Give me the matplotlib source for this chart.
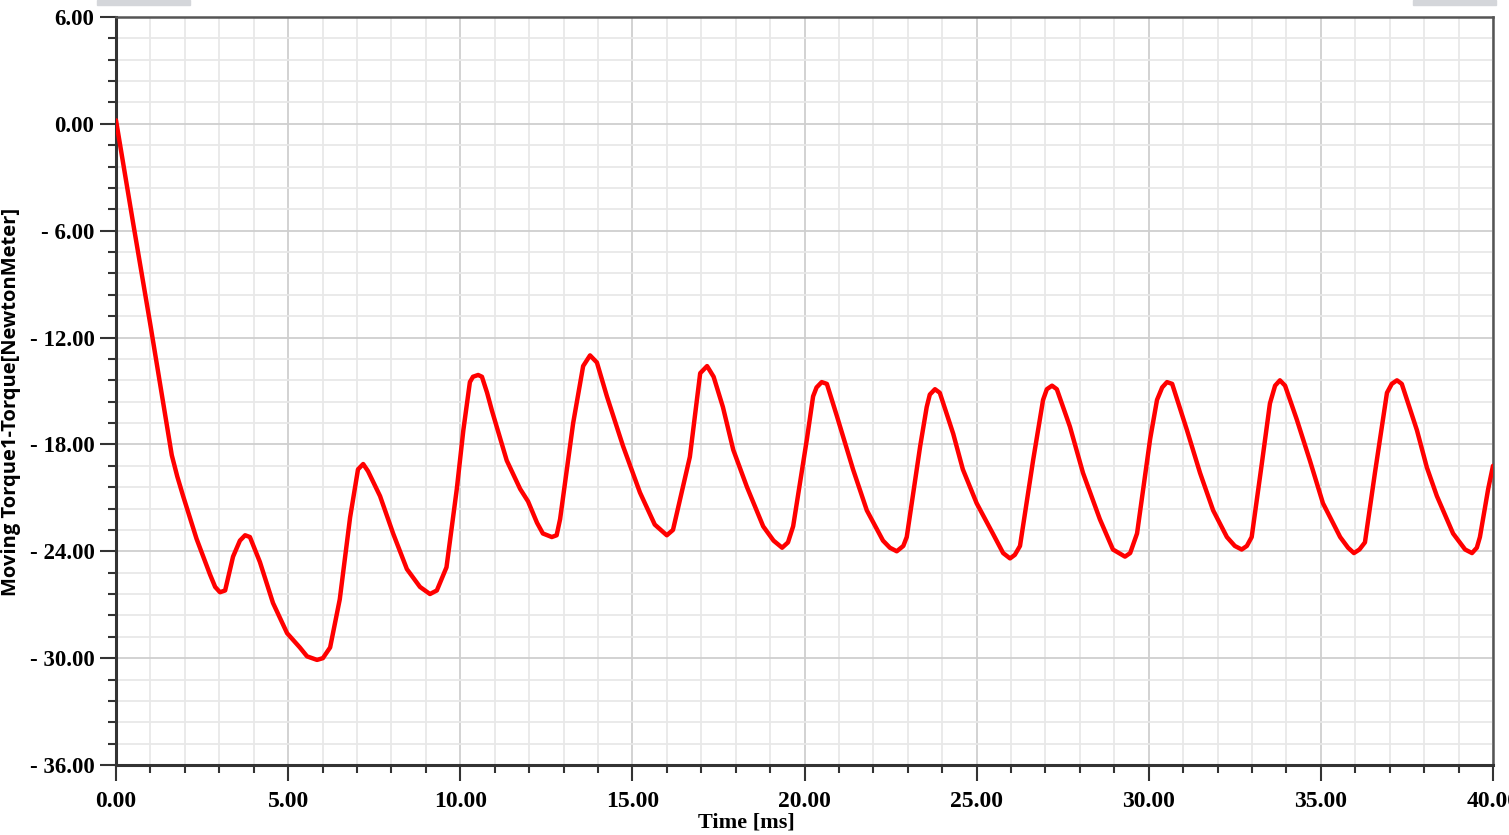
import matplotlib
matplotlib.use("Agg")
import matplotlib.pyplot as plt
from matplotlib.ticker import MultipleLocator, FuncFormatter
from matplotlib.patches import Rectangle

# Data (time in ms, torque in N·m)
time_ms = [0.0, 0.5, 1.0, 1.34, 1.62, 1.78, 1.95, 2.34, 2.73, 2.88, 3.02, 3.17, 3.4, 3.6, 3.75,
           3.89, 4.18, 4.56, 4.97, 5.34, 5.55, 5.84, 6.01, 6.22, 6.5, 6.8, 7.03, 7.18, 7.32,
           7.67, 8.05, 8.45, 8.83, 9.12, 9.32, 9.6, 9.9, 10.09, 10.28, 10.37, 10.52, 10.63,
           10.78, 10.92, 11.35, 11.74, 11.97, 12.23, 12.4, 12.66, 12.8, 12.9, 13.28, 13.57,
           13.77, 13.97, 14.26, 14.73, 15.22, 15.65, 16.0, 16.18, 16.67, 16.97, 17.17, 17.36,
           17.63, 17.93, 18.33, 18.8, 19.1, 19.35, 19.52, 19.67, 20.07, 20.25, 20.35, 20.5,
           20.65, 20.94, 21.41, 21.81, 22.28, 22.48, 22.68, 22.87, 22.97, 23.36, 23.55, 23.64,
           23.79, 23.93, 24.32, 24.6, 25.0, 25.47, 25.77, 25.97, 26.11, 26.26, 26.64, 26.93,
           27.04, 27.19, 27.33, 27.71, 28.09, 28.58, 28.96, 29.31, 29.46, 29.66, 30.04, 30.24,
           30.39, 30.53, 30.68, 31.11, 31.49, 31.87, 32.27, 32.5, 32.7, 32.85, 32.99, 33.29,
           33.52, 33.67, 33.81, 33.96, 34.3, 34.68, 35.06, 35.56, 35.79, 35.96, 36.12, 36.28,
           36.57, 36.92, 37.06, 37.21, 37.35, 37.79, 38.08, 38.37, 38.84, 39.19, 39.39, 39.53,
           39.62, 39.86, 40.0]
torque_nm = [0.2, -5.6, -11.3, -15.3, -18.6, -19.8, -20.9, -23.3, -25.3, -26.0, -26.3, -26.2, -24.3, -23.4, -23.1,
             -23.2, -24.6, -26.9, -28.6, -29.4, -29.9, -30.1, -30.0, -29.4, -26.7, -22.1, -19.4, -19.1, -19.5,
             -20.9, -23.0, -25.0, -26.0, -26.4, -26.2, -24.9, -20.5, -17.2, -14.5, -14.2, -14.1, -14.2,
             -15.1, -16.1, -18.9, -20.5, -21.2, -22.4, -23.0, -23.2, -23.1, -22.2, -16.8, -13.6,
             -13.0, -13.4, -15.3, -18.1, -20.7, -22.5, -23.1, -22.8, -18.7, -14.0, -13.6, -14.2,
             -15.9, -18.3, -20.4, -22.6, -23.4, -23.8, -23.5, -22.6, -17.7, -15.3, -14.8, -14.5,
             -14.6, -16.4, -19.4, -21.7, -23.4, -23.8, -24.0, -23.7, -23.2, -18.1, -15.9, -15.2,
             -14.9, -15.1, -17.4, -19.4, -21.3, -23.0, -24.1, -24.4, -24.2, -23.7, -18.9, -15.5,
             -14.9, -14.7, -14.9, -17.0, -19.6, -22.2, -23.9, -24.3, -24.1, -23.0, -17.7, -15.5,
             -14.8, -14.5, -14.6, -17.2, -19.6, -21.7, -23.2, -23.7, -23.9, -23.7, -23.2, -19.0,
             -15.7, -14.7, -14.4, -14.7, -16.6, -18.9, -21.3, -23.2, -23.8, -24.1, -23.9, -23.5,
             -19.6, -15.1, -14.6, -14.4, -14.6, -17.2, -19.3, -20.9, -23.0, -23.9, -24.1, -23.8,
             -23.2, -20.5, -19.2]

x_ticks = [0, 5, 10, 15, 20, 25, 30, 35, 40]
y_ticks = [6, 0, -6, -12, -18, -24, -30, -36]
x_label = "Time [ms]"
y_label = "Moving Torque1-Torque[NewtonMeter]"

fig = plt.figure(figsize=(15.09, 8.35), dpi=100)
ax = fig.add_axes([116/1509, 1-765/835, (1493-116)/1509, (765-17)/835])

ax.plot(time_ms, torque_nm, color="#ff0000", lw=3.2, solid_joinstyle="round",
        solid_capstyle="round", zorder=3)

ax.set_xlim(0, 40)
ax.set_ylim(-36, 6)
ax.set_xticks(x_ticks)
ax.set_yticks(y_ticks)
ax.xaxis.set_minor_locator(MultipleLocator(1))
ax.yaxis.set_minor_locator(MultipleLocator(1.2))

def yfmt(v, pos):
    if v < -1e-9:
        return "- %.2f" % abs(v)
    return "%.2f" % abs(v)

ax.yaxis.set_major_formatter(FuncFormatter(yfmt))
ax.xaxis.set_major_formatter(FuncFormatter(lambda v, p: "%.2f" % v))

ax.grid(which="major", color="#cfcfcf", lw=1.3, zorder=0)
ax.grid(which="minor", color="#e8e8e8", lw=1.3, zorder=0)
ax.set_axisbelow(True)

ax.tick_params(which="major", length=11.5, width=1.5, color="#333333", direction="out")
ax.tick_params(which="minor", length=5.8, width=1.5, color="#333333", direction="out")
ax.tick_params(axis="x", pad=7)
ax.tick_params(axis="y", pad=4)
for lab in ax.get_xticklabels():
    lab.set_fontfamily("Liberation Serif")
    lab.set_fontweight("bold")
    lab.set_fontsize(17)
for lab in ax.get_yticklabels():
    lab.set_fontfamily("Liberation Serif")
    lab.set_fontweight("bold")
    lab.set_fontsize(16.5)

for side in ["left", "bottom"]:
    ax.spines[side].set_color("#333333")
    ax.spines[side].set_linewidth(2.2)
for side in ["top", "right"]:
    ax.spines[side].set_color("#555555")
    ax.spines[side].set_linewidth(1.8)

ax.set_xlabel(x_label, fontfamily="Liberation Serif", fontweight="bold", fontsize=16)
ax.xaxis.label.set_va("center")
ax.xaxis.set_label_coords(0.4575, -0.0775)
ax.set_ylabel(y_label, fontfamily="Open Sans", fontweight="bold", fontsize=14.5)
ax.yaxis.label.set_va("center")
ax.yaxis.set_label_coords(-0.0765, 0.485)

# faint window artifacts at top edge
fig.patches.append(Rectangle((97/1509, 1-5/835), 93/1509, 5/835, transform=fig.transFigure,
                             color="#d4d6da", zorder=0))
fig.patches.append(Rectangle((1413/1509, 1-5/835), 83/1509, 5/835, transform=fig.transFigure,
                             color="#d4d6da", zorder=0))

fig.savefig("out.png", dpi=100)
